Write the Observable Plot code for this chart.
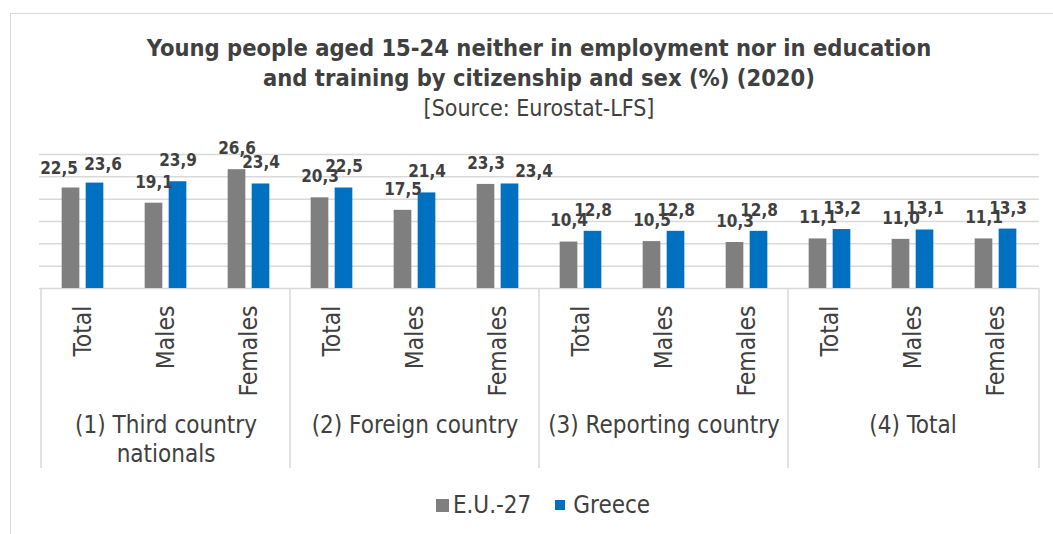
<!DOCTYPE html>
<html>
<head>
<meta charset="utf-8">
<script src="https://cdn.jsdelivr.net/npm/d3@7"></script>
<script src="https://cdn.jsdelivr.net/npm/@observablehq/plot@0.6"></script>
<style>
  html, body { margin: 0; padding: 0; background: #fff; }
  body { width: 1053px; height: 534px; overflow: hidden; position: relative;
         font-family: "DejaVu Sans Condensed", "DejaVu Sans", sans-serif; color: #404040; }
  #frame { position: absolute; left: 10px; top: 13px; width: 1200px; height: 700px;
           border-left: 1.5px solid #d9d9d9; border-top: 1.5px solid #d9d9d9; box-sizing: border-box; }
  #title { position: absolute; left: 0; width: 1078px; top: 33px; text-align: center;
           font-weight: bold; font-size: 23.5px; line-height: 30px; color: #404040; }
  #subtitle { position: absolute; left: 0; width: 1078px; top: 93px; text-align: center;
              font-size: 23px; line-height: 30px; color: #404040; }
  #chart { position: absolute; left: 0; top: 128px; }
  #legend { position: absolute; left: 0; width: 1086px; top: 490px; height: 30px;
            display: flex; justify-content: center; align-items: center; font-size: 24px; color: #404040; }
  .sw { display: inline-block; }
</style>
</head>
<body>
<div id="frame"></div>
<div id="title"></div>
<div id="subtitle"></div>
<div id="chart"></div>
<div id="legend"></div>
<script>
// ---- data ----
const titleLines = ["Young people aged 15-24 neither in employment nor in education",
                    "and training by citizenship and sex (%) (2020)"];
const subtitleText = "[Source: Eurostat-LFS]";
const groups = ["(1) Third country nationals", "(2) Foreign country", "(3) Reporting country", "(4) Total"];
const groupLabelLines = [["(1) Third country", "nationals"], ["(2) Foreign country"], ["(3) Reporting country"], ["(4) Total"]];
const subs = ["Total", "Males", "Females"];
const seriesNames = ["E.U.-27", "Greece"];
const eu27   = [22.5, 19.1, 26.6, 20.3, 17.5, 23.3, 10.4, 10.5, 10.3, 11.1, 11.0, 11.1];
const greece = [23.6, 23.9, 23.4, 22.5, 21.4, 23.4, 12.8, 12.8, 12.8, 13.2, 13.1, 13.3];
const yTicks = [0, 5, 10, 15, 20, 25, 30];
const colors = ["#7f7f7f", "#0070c0"];

// ---- build table ----
const rows = [];
const keys = [];
groups.forEach((g, gi) => subs.forEach((s, si) => {
  const k = gi * 3 + si;
  const key = gi + "|" + s;
  keys.push(key);
  rows.push({key, group: g, gi, sub: s, si, series: seriesNames[0], value: eu27[k]});
  rows.push({key, group: g, gi, sub: s, si, series: seriesNames[1], value: greece[k]});
}));
const groupRows = groups.map((g, gi) => ({key: gi + "|" + subs[1], text: groupLabelLines[gi].join("\n"), firstKey: gi + "|" + subs[0]}));
const fmt = v => v.toFixed(1).replace(".", ",");

document.getElementById("title").innerHTML = titleLines.join("<br>");
document.getElementById("subtitle").textContent = subtitleText;

const W = 1053, H = 345, mL = 39, mR = 14, mT = 26, mB = 185;
const band = (W - mL - mR) / keys.length;
const barW = 18, gap = 6;
const off = gap / 2 + barW / 2;

const isEU = d => d.series === seriesNames[0];
const isGR = d => d.series === seriesNames[1];
const firstPair = d => d.gi === 0 && d.si === 0;
const movedGR = d => d.gi === 1 && d.si === 2;

function dividers(index, scales, values, dims) {
  const g = d3.create("svg:g");
  const top = dims.height - dims.marginBottom;
  const bottom = top + 180;
  const xs = groupRows.map(r => scales.x(r.firstKey));
  xs.push(dims.width - dims.marginRight);
  for (const x of xs) {
    g.append("line").attr("x1", x).attr("x2", x).attr("y1", top).attr("y2", bottom)
      .attr("stroke", "#d9d9d9").attr("stroke-width", 1.5);
  }
  return g.node();
}

const lbl = {fontWeight: "bold", fontSize: 17, fill: "#404040"};

const plot = Plot.plot({
  width: W, height: H,
  marginLeft: mL, marginRight: mR, marginTop: mT, marginBottom: mB,
  style: {fontFamily: '"DejaVu Sans Condensed", "DejaVu Sans", sans-serif', color: "#404040", background: "transparent"},
  x: {type: "band", domain: keys, padding: 0, label: null},
  y: {domain: [0, 30], label: null, axis: null},
  marks: [
    Plot.ruleY(yTicks, {stroke: "#d9d9d9", strokeWidth: 1.5}),
    Plot.barY(rows.filter(isEU), {x: "key", y: "value", fill: colors[0],
      insetLeft: band / 2 - gap / 2 - barW, insetRight: band / 2 + gap / 2}),
    Plot.barY(rows.filter(isGR), {x: "key", y: "value", fill: colors[1],
      insetLeft: band / 2 + gap / 2, insetRight: band / 2 - gap / 2 - barW}),
    Plot.text(rows.filter(d => isEU(d) && !firstPair(d)), {x: "key", y: "value", text: d => fmt(d.value),
      dx: -off, dy: -21, ...lbl}),
    Plot.text(rows.filter(d => isGR(d) && !firstPair(d) && !movedGR(d)), {x: "key", y: "value", text: d => fmt(d.value),
      dx: off, dy: -21, ...lbl}),
    Plot.text(rows.filter(d => isEU(d) && firstPair(d)), {x: "key", y: "value", text: d => fmt(d.value),
      dx: -off - 12, dy: -19, ...lbl}),
    Plot.text(rows.filter(d => isGR(d) && firstPair(d)), {x: "key", y: "value", text: d => fmt(d.value),
      dx: off + 8, dy: -19, ...lbl}),
    Plot.text(rows.filter(d => isGR(d) && movedGR(d)), {x: "key", y: "value", text: d => fmt(d.value),
      dx: off + 24, dy: -12, ...lbl}),
    Plot.axisX({tickRotate: -90, tickSize: 0, tickPadding: 17, tickFormat: k => k.split("|")[1],
      fontSize: 24.5, fill: "#404040", label: null}),
    Plot.text(groupRows, {x: "key", text: "text", frameAnchor: "bottom", lineAnchor: "top",
      dy: 125, fontSize: 24, lineHeight: 1.17, fill: "#404040"}),
    dividers
  ]
});
document.getElementById("chart").appendChild(plot);

// legend
const leg = document.getElementById("legend");
const swSizes = [13, 10];
seriesNames.forEach((s, i) => {
  const sw = document.createElement("span");
  sw.className = "sw";
  sw.style.width = swSizes[i] + "px";
  sw.style.height = swSizes[i] + "px";
  sw.style.background = colors[i];
  sw.style.marginRight = (i === 0 ? 4 : 8) + "px";
  sw.style.marginLeft = (i === 0 ? 0 : 24) + "px";
  leg.appendChild(sw);
  const t = document.createElement("span");
  t.textContent = s;
  leg.appendChild(t);
});
</script>
</body>
</html>
